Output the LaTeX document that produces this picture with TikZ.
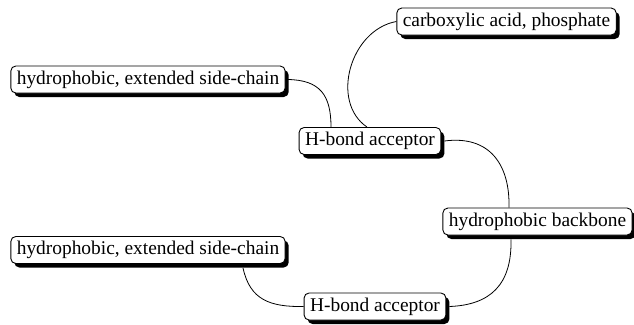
\documentclass[tikz,border=0pt]{standalone}
\usepackage{fontspec}
\setmainfont{Liberation Serif}
\usetikzlibrary{shadows,calc}
\tikzset{
  tag/.style={draw=black, line width=0.9pt, fill=white, rounded corners=5pt,
    minimum height=27pt, inner xsep=6pt, inner ysep=2pt,
    font=\fontsize{19.4}{22}\selectfont,
    drop shadow={shadow xshift=3.5pt, shadow yshift=-4pt, fill=black, opacity=1}},
  link/.style={line width=0.8pt, black}
}
\begin{document}
\begin{tikzpicture}[x=1pt,y=-1pt]
  \useasboundingbox (0,0) rectangle (634,324);
  % labelled boxes
  \node[tag] (acid)  at (506.5,21.5) {carboxylic acid, phosphate};
  \node[tag] (sideA) at (148,79.5)   {hydrophobic, extended side-chain};
  \node[tag] (hbA)   at (370,141)    {H-bond acceptor};
  \node[tag] (back)  at (537.5,221.5){hydrophobic backbone};
  \node[tag] (sideB) at (148,250)    {hydrophobic, extended side-chain};
  \node[tag] (hbB)   at (375,306.5)  {H-bond acceptor};
  % connectors
  \draw[link] (acid.west) .. controls (350,30) and (330,102) .. ([xshift=-3pt]hbA.north);
  \draw[link] ([xshift=2pt]sideA.east) .. controls (320,80) and (331,95) .. ([xshift=-39pt]hbA.north);
  \draw[link] ([xshift=3pt]hbA.east) .. controls (490,135) and (510,165) .. ([xshift=-28.5pt]back.north);
  \draw[link] ($(back.south)+(-26.5,4)$) .. controls (512,285) and (490,305) .. ([xshift=3pt]hbB.east);
  \draw[link] ($(sideB.south)+(95,4)$) .. controls (250,300) and (270,307) .. (hbB.west);
\end{tikzpicture}
\end{document}
